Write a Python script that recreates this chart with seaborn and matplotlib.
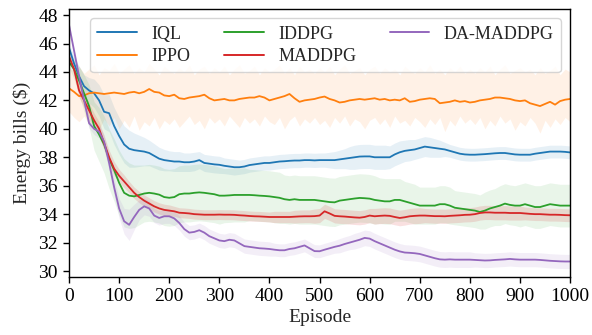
import numpy as np
import pandas as pd
import matplotlib
matplotlib.use("Agg")
import matplotlib.pyplot as plt
import seaborn as sns

episodes = list(range(0, 1001, 10))
methods = ["IQL", "IPPO", "IDDPG", "MADDPG", "DA-MADDPG"]
colors = ["#1f77b4", "#ff7f0e", "#2ca02c", "#d62728", "#9467bd"]

iql = [45.7, 44.6, 43.7, 43.0, 42.7, 42.5, 42.0, 41.2, 41.1, 40.2, 39.5,
       38.9, 38.6, 38.5, 38.45, 38.4, 38.3, 38.1, 37.9, 37.8, 37.75,
       37.7, 37.7, 37.65, 37.65, 37.7, 37.8, 37.6, 37.55, 37.5, 37.47,
       37.4, 37.35, 37.3, 37.3, 37.35, 37.45, 37.5, 37.55, 37.6, 37.6,
       37.65, 37.7, 37.72, 37.75, 37.77, 37.77, 37.8, 37.8, 37.78, 37.8,
       37.8, 37.8, 37.8, 37.85, 37.9, 37.95, 38.0, 38.05, 38.06, 38.06,
       38.0, 38.0, 38.0, 38.0, 38.2, 38.35, 38.45, 38.5, 38.55, 38.65,
       38.75, 38.7, 38.65, 38.6, 38.55, 38.45, 38.35, 38.25, 38.2, 38.18,
       38.18, 38.2, 38.22, 38.25, 38.28, 38.3, 38.3, 38.25, 38.2, 38.18,
       38.18, 38.18, 38.25, 38.3, 38.35, 38.4, 38.4, 38.4, 38.38, 38.34]

ippo = [42.85, 42.6, 42.3, 42.35, 42.5, 42.55, 42.5, 42.45, 42.5, 42.55, 42.5,
        42.45, 42.55, 42.6, 42.5, 42.6, 42.8, 42.6, 42.55, 42.35, 42.3,
        42.4, 42.15, 42.1, 42.2, 42.25, 42.3, 42.4, 42.15, 42.0, 42.05,
        42.1, 42.0, 42.0, 42.1, 42.15, 42.2, 42.2, 42.3, 42.2, 42.0,
        42.1, 42.2, 42.3, 42.45, 42.15, 41.9, 42.0, 42.05, 42.1, 42.2,
        42.27, 42.1, 42.0, 41.85, 41.9, 42.0, 42.05, 42.1, 42.05, 42.1,
        42.15, 42.05, 42.1, 42.0, 42.05, 42.0, 42.15, 41.9, 41.95, 42.05,
        42.1, 42.15, 42.1, 41.8, 41.85, 41.9, 42.0, 41.9, 41.95, 41.85,
        41.9, 42.0, 42.05, 42.1, 42.2, 42.2, 42.15, 42.1, 42.0, 41.95,
        42.0, 41.8, 41.7, 41.6, 41.75, 41.9, 41.7, 41.95, 42.05, 42.1]

iddpg = [44.7, 44.2, 43.4, 42.5, 41.6, 40.2, 39.6, 38.9, 37.9, 37.1, 36.2,
         35.5, 35.3, 35.25, 35.35, 35.45, 35.5, 35.45, 35.37, 35.2, 35.15,
         35.2, 35.4, 35.45, 35.45, 35.5, 35.53, 35.5, 35.45, 35.4, 35.3,
         35.3, 35.32, 35.35, 35.35, 35.35, 35.35, 35.33, 35.3, 35.28, 35.25,
         35.2, 35.15, 35.05, 35.0, 35.05, 35.0, 35.0, 35.0, 35.0, 34.95,
         34.9, 34.85, 34.83, 34.95, 35.0, 35.05, 35.1, 35.14, 35.12, 35.09,
         35.0, 34.95, 34.9, 34.9, 35.0, 35.0, 34.9, 34.8, 34.7, 34.6,
         34.6, 34.6, 34.6, 34.7, 34.7, 34.6, 34.45, 34.4, 34.35, 34.3,
         34.25, 34.15, 34.25, 34.4, 34.5, 34.6, 34.74, 34.65, 34.6, 34.6,
         34.7, 34.6, 34.5, 34.5, 34.6, 34.7, 34.65, 34.6, 34.6, 34.6]

maddpg = [45.1, 44.2, 42.7, 42.0, 41.3, 40.6, 40.0, 39.0, 38.0, 37.2, 36.7,
          36.3, 35.9, 35.5, 35.2, 34.95, 34.75, 34.55, 34.4, 34.3, 34.25,
          34.2, 34.1, 34.08, 34.05, 34.0, 33.98, 33.96, 33.96, 33.96, 33.97,
          33.96, 33.96, 33.95, 33.92, 33.9, 33.87, 33.85, 33.84, 33.82, 33.8,
          33.8, 33.8, 33.8, 33.8, 33.82, 33.84, 33.85, 33.85, 33.86, 33.9,
          34.2, 34.05, 33.88, 33.85, 33.83, 33.8, 33.77, 33.75, 33.8, 33.9,
          33.85, 33.88, 33.9, 33.88, 33.8, 33.73, 33.78, 33.85, 33.88, 33.9,
          33.9, 33.88, 33.86, 33.86, 33.85, 33.88, 33.9, 33.92, 33.95, 33.96,
          34.0, 34.08, 34.12, 34.12, 34.1, 34.1, 34.1, 34.08, 34.08, 34.08,
          34.05, 34.02, 34.0, 34.0, 33.98, 33.96, 33.96, 33.95, 33.93, 33.92]

damaddpg = [47.3, 45.5, 43.7, 42.0, 40.4, 40.0, 39.8, 39.1, 37.6, 35.9, 34.4,
            33.5, 33.25, 33.8, 34.3, 34.55, 34.4, 33.9, 33.73, 33.85, 33.85,
            33.7, 33.38, 32.95, 32.7, 32.75, 32.87, 32.7, 32.45, 32.3, 32.15,
            32.1, 32.2, 32.15, 31.95, 31.75, 31.7, 31.65, 31.6, 31.58, 31.55,
            31.5, 31.46, 31.46, 31.55, 31.6, 31.7, 31.8, 31.6, 31.4, 31.39,
            31.5, 31.6, 31.7, 31.78, 31.9, 32.0, 32.1, 32.2, 32.33, 32.28,
            32.1, 31.95, 31.8, 31.65, 31.5, 31.38, 31.3, 31.28, 31.25, 31.2,
            31.1, 31.0, 30.9, 30.82, 30.8, 30.82, 30.8, 30.8, 30.8, 30.8,
            30.78, 30.76, 30.74, 30.75, 30.78, 30.8, 30.82, 30.85, 30.82, 30.8,
            30.8, 30.8, 30.8, 30.78, 30.75, 30.72, 30.7, 30.68, 30.67, 30.67]

# shaded band widths (half-widths) for smooth-banded methods
iql_sd = [0.3, 0.5, 0.7, 0.8, 0.9, 1.0, 1.1, 1.2, 1.3, 1.3, 1.3,
          1.3, 1.3, 1.2, 1.1, 1.0, 0.9, 0.85, 0.8, 0.75, 0.7,
          0.7, 0.7, 0.65, 0.65, 0.65, 0.6, 0.6, 0.6, 0.6, 0.6,
          0.55, 0.55, 0.55, 0.5, 0.5, 0.5, 0.5, 0.5, 0.5, 0.5,
          0.5, 0.5, 0.5, 0.5, 0.5, 0.5, 0.5, 0.5, 0.5, 0.5,
          0.5, 0.55, 0.6, 0.65, 0.7, 0.8, 0.85, 0.85, 0.85, 0.85,
          0.85, 0.85, 0.85, 0.8, 0.8, 0.8, 0.75, 0.75, 0.7, 0.7,
          0.7, 0.7, 0.65, 0.6, 0.5, 0.45, 0.45, 0.45, 0.45, 0.45,
          0.45, 0.45, 0.45, 0.45, 0.45, 0.45, 0.45, 0.45, 0.45, 0.45,
          0.45, 0.45, 0.45, 0.45, 0.45, 0.45, 0.45, 0.45, 0.45, 0.45]

iddpg_sd = [0.4, 0.7, 1.0, 1.3, 1.5, 1.7, 1.9, 2.0, 2.1, 2.2, 2.3,
            2.4, 2.3, 2.2, 2.1, 2.0, 2.0, 2.0, 2.0, 2.0, 2.0,
            2.0, 2.0, 2.0, 2.0, 2.0, 2.0, 2.0, 2.0, 2.0, 2.0,
            1.9, 1.9, 1.9, 1.9, 1.9, 1.8, 1.8, 1.8, 1.8, 1.8,
            1.8, 1.8, 1.7, 1.7, 1.7, 1.7, 1.7, 1.7, 1.7, 1.7,
            1.7, 1.7, 1.7, 1.7, 1.7, 1.7, 1.7, 1.7, 1.7, 1.7,
            1.7, 1.6, 1.6, 1.6, 1.5, 1.5, 1.4, 1.4, 1.4, 1.3,
            1.3, 1.3, 1.3, 1.3, 1.3, 1.3, 1.2, 1.2, 1.2, 1.2,
            1.2, 1.2, 1.3, 1.3, 1.3, 1.4, 1.4, 1.4, 1.4, 1.5,
            1.5, 1.5, 1.5, 1.5, 1.5, 1.5, 1.5, 1.5, 1.5, 1.5]

maddpg_sd = [0.3, 0.4, 0.5, 0.5, 0.5, 0.5, 0.5, 0.5, 0.5, 0.5, 0.45,
             0.45, 0.4, 0.4, 0.4, 0.4, 0.4, 0.4, 0.4, 0.4, 0.4,
             0.35, 0.35, 0.35, 0.35, 0.35, 0.35, 0.35, 0.35, 0.35, 0.35,
             0.35, 0.35, 0.35, 0.35, 0.35, 0.35, 0.35, 0.35, 0.35, 0.35,
             0.4, 0.4, 0.4, 0.4, 0.45, 0.45, 0.45, 0.45, 0.5, 0.5,
             0.5, 0.5, 0.5, 0.5, 0.5, 0.5, 0.5, 0.5, 0.5, 0.5,
             0.55, 0.55, 0.55, 0.55, 0.55, 0.55, 0.55, 0.55, 0.55, 0.55,
             0.5, 0.5, 0.5, 0.5, 0.5, 0.5, 0.5, 0.5, 0.5, 0.5,
             0.5, 0.5, 0.5, 0.5, 0.5, 0.5, 0.5, 0.5, 0.5, 0.5,
             0.45, 0.45, 0.45, 0.45, 0.45, 0.45, 0.45, 0.45, 0.45, 0.45]

damaddpg_sd = [0.2, 0.25, 0.3, 0.3, 0.35, 0.4, 0.45, 0.5, 0.55, 0.6, 0.7,
               0.9, 1.1, 0.9, 0.7, 0.6, 0.55, 0.5, 0.5, 0.5, 0.5,
               0.5, 0.5, 0.5, 0.5, 0.5, 0.5, 0.5, 0.5, 0.5, 0.5,
               0.5, 0.5, 0.5, 0.5, 0.5, 0.5, 0.5, 0.5, 0.5, 0.5,
               0.45, 0.45, 0.45, 0.45, 0.45, 0.45, 0.45, 0.45, 0.45, 0.45,
               0.45, 0.45, 0.45, 0.5, 0.5, 0.5, 0.55, 0.55, 0.55, 0.55,
               0.55, 0.55, 0.55, 0.55, 0.55, 0.55, 0.55, 0.55, 0.55, 0.55,
               0.55, 0.55, 0.55, 0.55, 0.55, 0.55, 0.55, 0.55, 0.55, 0.55,
               0.5, 0.5, 0.5, 0.5, 0.5, 0.5, 0.5, 0.5, 0.5, 0.5,
               0.5, 0.5, 0.5, 0.5, 0.5, 0.5, 0.5, 0.5, 0.5, 0.5]

# IPPO has a noisy band: explicit lower / upper edges
ippo_lo = [41.2, 40.8, 40.5, 40.9, 40.3, 40.6, 39.9, 40.7, 40.2, 40.8, 40.0,
           40.6, 40.1, 40.9, 39.9, 40.5, 40.2, 40.8, 40.0, 40.6, 40.3,
           40.7, 40.1, 40.5, 40.9, 40.3, 40.6, 40.0, 40.8, 40.4, 40.7,
           40.2, 40.9, 40.5, 40.1, 40.8, 40.4, 40.7, 40.2, 40.9, 40.5,
           40.3, 40.8, 40.0, 40.6, 40.9, 40.2, 40.7, 40.4, 40.8, 40.3,
           40.6, 40.1, 40.8, 40.4, 40.9, 40.2, 40.7, 40.5, 40.0, 40.6,
           40.8, 40.3, 40.7, 40.1, 40.9, 40.4, 40.6, 40.2, 40.8, 40.5,
           40.1, 40.7, 40.3, 40.8, 39.8, 40.6, 40.2, 40.9, 40.4, 40.7,
           40.3, 40.8, 40.0, 40.6, 40.2, 40.9, 40.4, 40.7, 39.9, 40.5,
           40.2, 40.8, 40.4, 39.7, 40.6, 40.1, 40.7, 40.3, 40.8, 40.5]

ippo_hi = [44.3, 44.0, 44.4, 43.9, 44.2, 44.5, 43.8, 44.3, 44.1, 44.6, 43.9,
           44.2, 44.5, 43.9, 44.3, 44.0, 44.6, 44.2, 43.8, 44.4, 44.1,
           43.9, 44.3, 44.0, 44.5, 43.8, 44.2, 44.4, 43.9, 44.3, 44.0,
           44.4, 43.8, 44.2, 44.5, 43.9, 44.1, 44.4, 43.8, 44.3, 44.0,
           44.2, 44.5, 43.9, 44.3, 43.8, 44.4, 44.0, 44.2, 43.9, 44.3,
           44.0, 44.4, 43.8, 44.2, 44.5, 43.9, 44.1, 44.3, 43.8, 44.2,
           44.4, 43.9, 44.3, 44.0, 44.2, 43.8, 44.4, 44.1, 43.9, 44.3,
           44.0, 44.5, 43.9, 44.2, 43.8, 44.3, 44.0, 44.4, 43.9, 44.2,
           43.9, 44.3, 44.0, 44.4, 43.8, 44.2, 44.5, 43.9, 44.1, 44.3,
           44.0, 44.2, 43.8, 44.3, 43.9, 44.1, 44.4, 43.8, 44.2, 44.0]

x_ticks = [0, 100, 200, 300, 400, 500, 600, 700, 800, 900, 1000]
y_ticks = [30, 32, 34, 36, 38, 40, 42, 44, 46, 48]

means = {"IQL": iql, "IPPO": ippo, "IDDPG": iddpg, "MADDPG": maddpg, "DA-MADDPG": damaddpg}
ep = np.array(episodes)
bands = {
    "IQL": (np.array(iql) - np.array(iql_sd), np.array(iql) + np.array(iql_sd)),
    "IPPO": (np.array(ippo_lo), np.array(ippo_hi)),
    "IDDPG": (np.array(iddpg) - np.array(iddpg_sd), np.array(iddpg) + np.array(iddpg_sd)),
    "MADDPG": (np.array(maddpg) - np.array(maddpg_sd), np.array(maddpg) + np.array(maddpg_sd)),
    "DA-MADDPG": (np.array(damaddpg) - np.array(damaddpg_sd), np.array(damaddpg) + np.array(damaddpg_sd)),
}
band_alpha = {"IQL": 0.11, "IPPO": 0.1, "IDDPG": 0.1, "MADDPG": 0.14, "DA-MADDPG": 0.11}

df = pd.concat([pd.DataFrame({"Episode": episodes, "value": means[m], "method": m}) for m in methods],
               ignore_index=True)

sns.set_theme(style="ticks")
plt.rcParams["font.family"] = ["Liberation Serif", "DejaVu Serif"]

fig = plt.figure(figsize=(5.92, 3.35), dpi=100)
ax = fig.add_axes([0.1166, 0.174, 0.8464, 0.798])

for m, c in zip(methods, colors):
    lo, hi = bands[m]
    ax.fill_between(ep, lo, hi, color=c, alpha=band_alpha[m], linewidth=0)

sns.lineplot(data=df, x="Episode", y="value", hue="method", hue_order=methods,
             palette=colors, linewidth=1.3, ax=ax, legend=False)

handles = [plt.Line2D([], [], color=c, linewidth=1.4) for c in colors]
leg = ax.legend(handles, methods, ncol=3, loc="upper right", fontsize=13,
                columnspacing=1.85, handlelength=2.2, frameon=True, fancybox=True,
                borderpad=0.4, labelspacing=0.3)
leg.get_frame().set_edgecolor("#cccccc")

ax.set_xlim(0, 1000)
ax.set_ylim(29.6, 48.4)
ax.set_xticks(x_ticks)
ax.set_yticks(y_ticks)
ax.tick_params(labelsize=14, length=4, width=1, pad=4, colors="black")
ax.set_xlabel("Episode", fontsize=14, labelpad=3)
ax.set_ylabel("Energy bills ($)", fontsize=14, labelpad=5)
for s in ax.spines.values():
    s.set_visible(True)
    s.set_color("black")
    s.set_linewidth(1.0)

fig.savefig("out.png", dpi=100)
